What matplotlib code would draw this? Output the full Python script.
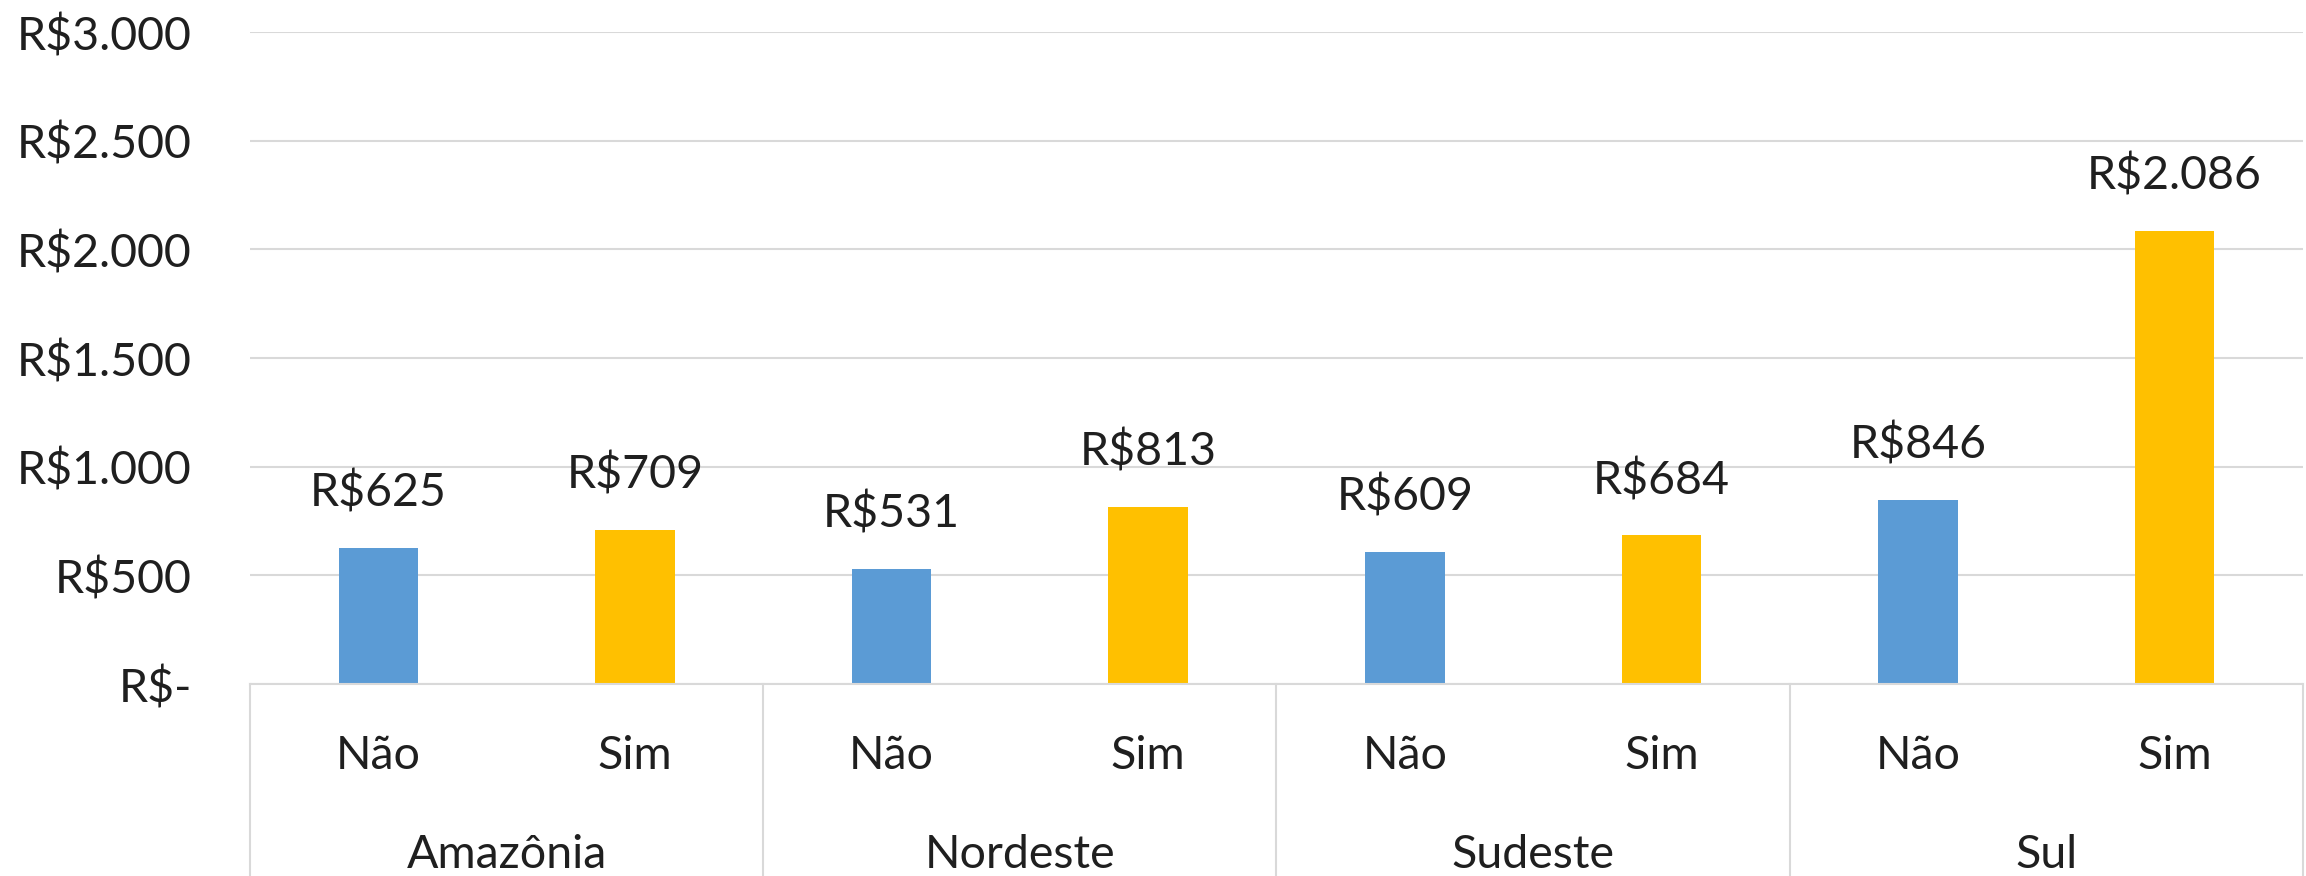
import matplotlib.pyplot as plt
import matplotlib.transforms as mtransforms

plt.rcParams['font.family'] = ['Lato', 'DejaVu Sans']

regions = ['Amazônia', 'Nordeste', 'Sudeste', 'Sul']
answers = ['Não', 'Sim']
nao_values = [625, 531, 609, 846]
sim_values = [709, 813, 684, 2086]
y_ticks = [0, 500, 1000, 1500, 2000, 2500, 3000]
y_tick_labels = ['R$-', 'R$500', 'R$1.000', 'R$1.500', 'R$2.000', 'R$2.500', 'R$3.000']

BLUE = '#5B9BD5'
GOLD = '#FFC000'
GRID = '#D9D9D9'
TEXT = '#1F1F1F'
FS = 33.5


def fmt_real(v):
    return 'R$' + f'{v:,}'.replace(',', '.')


fig = plt.figure(figsize=(23.06, 8.76), dpi=100)
ax = fig.add_axes([250 / 2306, 192 / 876, (2303 - 250) / 2306, 652 / 876])

# posições: cada região ocupa duas casas (Não, Sim)
x_nao = [2 * i for i in range(len(regions))]
x_sim = [2 * i + 1 for i in range(len(regions))]

bw = 0.31
bars_nao = ax.bar(x_nao, nao_values, width=bw, color=BLUE, zorder=3)
bars_sim = ax.bar(x_sim, sim_values, width=bw, color=GOLD, zorder=3)

for bars, vals in ((bars_nao, nao_values), (bars_sim, sim_values)):
    for b, v in zip(bars, vals):
        ax.annotate(fmt_real(v), (b.get_x() + b.get_width() / 2, v),
                    xytext=(0, 24), textcoords='offset points',
                    ha='center', va='bottom', fontsize=FS, color=TEXT)

ax.set_xlim(-0.5, 2 * len(regions) - 0.5)
ax.set_ylim(0, 3000)
ax.set_yticks(y_ticks)
ax.set_yticklabels(y_tick_labels)
ax.tick_params(axis='y', length=0, pad=42, labelsize=FS, labelcolor=TEXT)
ax.set_xticks([])
ax.yaxis.grid(True, color=GRID, linewidth=1.5, zorder=0)
for s in ax.spines.values():
    s.set_visible(False)

# eixo de categorias em dois níveis
trans = mtransforms.blended_transform_factory(ax.transData, ax.transAxes)
bottom = -192 / 652
ax.plot([-0.5, 2 * len(regions) - 0.5], [0, 0], transform=trans,
        color=GRID, linewidth=1.5, clip_on=False, zorder=4)
for k in range(len(regions) + 1):
    xb = 2 * k - 0.5
    ax.plot([xb, xb], [0, bottom], transform=trans, color=GRID,
            linewidth=1.5, clip_on=False)

for i, reg in enumerate(regions):
    for j, ans in enumerate(answers):
        ax.text(2 * i + j, -0.130, ans, transform=trans, ha='center',
                va='baseline', fontsize=FS, color=TEXT)
    ax.text(2 * i + 0.5, -0.282, reg, transform=trans, ha='center',
            va='baseline', fontsize=FS, color=TEXT)

fig.savefig('out.png', dpi=100)
